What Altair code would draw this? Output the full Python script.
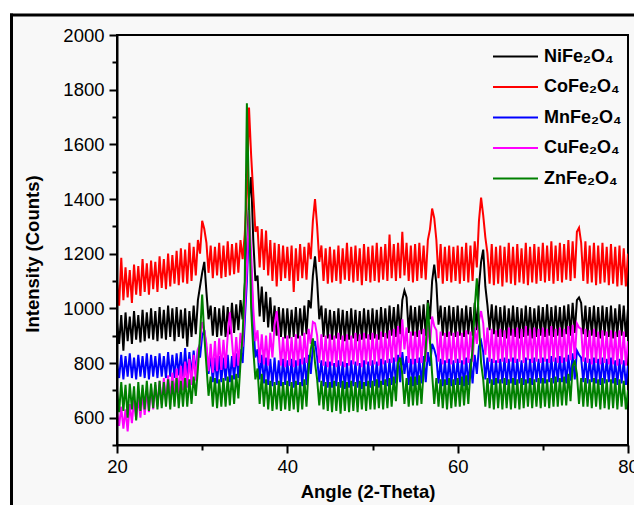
import altair as alt
import pandas as pd

ANGLE_START = 20.0
ANGLE_STEP = 0.25

SAMPLES = ["NiFe₂O₄", "CoFe₂O₄", "MnFe₂O₄", "CuFe₂O₄", "ZnFe₂O₄"]
COLORS = ["#000000", "#ff0000", "#0000ff", "#ff00ff", "#008000"]

X_TICKS = [20, 30, 40, 50, 60, 70, 80]
Y_TICKS = [500, 600, 700, 800, 900, 1000, 1100, 1200, 1300, 1400, 1500,
           1600, 1700, 1800, 1900, 2000]

NI = [
    950, 870, 975, 845, 985, 880, 970, 870, 990, 885, 975, 875, 995, 880, 985, 890, 1000, 885, 990, 880,
    1005, 890, 995, 885, 1010, 895, 1000, 880, 1005, 895, 995, 890, 1000, 860, 990, 895, 1010, 905, 1030, 1080,
    1130, 1170, 1060, 960, 1010, 900, 1005, 895, 1000, 900, 1010, 895, 1005, 905, 1020, 910, 1015, 920, 1030, 960,
    1080, 1200, 1400, 1480, 1250, 1100, 1120, 970, 1080, 950, 1060, 930, 1040, 915, 1010, 900, 1005, 895, 1000, 890,
    1000, 890, 995, 895, 1005, 890, 1000, 900, 1010, 905, 1030, 1000, 1120, 1190, 1100, 960, 1010, 895, 1000, 890,
    995, 885, 990, 890, 1000, 885, 995, 880, 990, 885, 1000, 890, 995, 880, 990, 885, 1000, 890, 995, 885,
    1000, 890, 995, 885, 1005, 895, 1000, 890, 1010, 900, 1005, 895, 1015, 905, 1030, 1065, 1040, 910, 1010, 900,
    1005, 895, 1010, 905, 1015, 900, 1030, 960, 1100, 1160, 1090, 940, 1010, 900, 1005, 895, 1010, 900, 1005, 895,
    1010, 900, 1000, 895, 1010, 905, 1005, 900, 1020, 920, 1080, 1170, 1215, 1080, 1010, 920, 1015, 905, 1010, 895,
    1005, 895, 1010, 890, 1000, 900, 1010, 895, 1005, 890, 1000, 895, 1010, 900, 1005, 890, 1000, 895, 1010, 900,
    1005, 895, 1015, 900, 1005, 895, 1010, 900, 1005, 895, 1010, 905, 1015, 900, 1020, 910, 1030, 1040, 1020, 905,
    1010, 895, 1005, 900, 1010, 895, 1005, 890, 1010, 900, 1005, 895, 1010, 890, 1000, 895, 1015, 900, 1010, 895,
    1000,
]

CO = [
    1100, 1010, 1185, 1030, 1150, 1040, 1140, 1020, 1160, 1050, 1155, 1045, 1180, 1060, 1165, 1050, 1175, 1070, 1170, 1060,
    1190, 1075, 1180, 1070, 1200, 1080, 1195, 1090, 1210, 1085, 1220, 1095, 1215, 1090, 1240, 1100, 1225, 1120, 1250, 1200,
    1320, 1290, 1240, 1130, 1230, 1110, 1225, 1120, 1240, 1110, 1230, 1115, 1245, 1120, 1235, 1125, 1240, 1130, 1250, 1180,
    1270, 1420, 1735, 1560, 1420, 1280, 1300, 1150, 1290, 1140, 1285, 1120, 1250, 1100, 1240, 1080, 1235, 1100, 1230, 1110,
    1225, 1100, 1230, 1060, 1220, 1100, 1235, 1110, 1225, 1105, 1240, 1180, 1320, 1400, 1300, 1170, 1230, 1100, 1220, 1090,
    1225, 1095, 1215, 1100, 1230, 1090, 1220, 1105, 1240, 1100, 1225, 1095, 1230, 1100, 1220, 1085, 1235, 1100, 1225, 1095,
    1230, 1100, 1240, 1095, 1225, 1105, 1235, 1100, 1270, 1110, 1235, 1100, 1240, 1110, 1280, 1120, 1240, 1100, 1230, 1095,
    1235, 1100, 1240, 1110, 1230, 1105, 1250, 1290, 1365, 1330, 1250, 1110, 1235, 1090, 1225, 1100, 1230, 1095, 1225, 1100,
    1230, 1090, 1225, 1100, 1240, 1095, 1230, 1100, 1245, 1150, 1320, 1405, 1340, 1260, 1200, 1090, 1235, 1085, 1225, 1090,
    1230, 1080, 1225, 1095, 1240, 1090, 1225, 1085, 1235, 1095, 1220, 1090, 1240, 1085, 1225, 1095, 1235, 1090, 1225, 1100,
    1240, 1095, 1230, 1100, 1245, 1090, 1230, 1100, 1240, 1095, 1235, 1105, 1250, 1100, 1245, 1110, 1280, 1295, 1240, 1100,
    1245, 1090, 1230, 1095, 1240, 1085, 1230, 1090, 1240, 1095, 1225, 1085, 1235, 1090, 1225, 1080, 1230, 1085, 1220, 1080,
    1200,
]

MN = [
    800, 745, 830, 740, 825, 750, 835, 745, 820, 740, 830, 750, 825, 745, 835, 740, 830, 750, 825, 745,
    835, 750, 825, 745, 840, 750, 830, 745, 835, 755, 840, 750, 855, 750, 840, 755, 845, 760, 850, 820,
    900, 920, 850, 760, 830, 730, 820, 725, 825, 730, 820, 735, 830, 730, 825, 740, 835, 745, 850, 800,
    950, 1100, 1300, 1150, 950, 820, 850, 740, 830, 725, 820, 720, 815, 715, 820, 720, 810, 715, 815, 720,
    810, 715, 815, 710, 810, 720, 815, 715, 820, 720, 830, 760, 860, 880, 820, 730, 810, 715, 805, 710,
    805, 710, 800, 715, 810, 710, 805, 705, 800, 710, 810, 715, 805, 710, 800, 705, 810, 715, 805, 710,
    810, 715, 805, 710, 815, 720, 810, 715, 815, 720, 820, 725, 830, 730, 840, 760, 825, 720, 815, 715,
    815, 720, 820, 725, 825, 730, 840, 790, 870, 850, 820, 725, 815, 715, 810, 720, 815, 715, 810, 720,
    815, 720, 810, 715, 820, 720, 815, 725, 830, 760, 860, 880, 840, 740, 820, 725, 815, 720, 810, 725,
    815, 725, 820, 720, 815, 725, 820, 720, 815, 725, 810, 720, 820, 725, 815, 720, 820, 730, 815, 725,
    820, 725, 815, 730, 825, 725, 820, 730, 825, 730, 820, 725, 830, 735, 835, 740, 845, 830, 820, 730,
    820, 725, 815, 730, 820, 725, 815, 720, 820, 725, 815, 730, 820, 725, 810, 720, 815, 725, 810, 720,
    790,
]

CU = [
    620, 570, 640, 560, 630, 550, 650, 580, 665, 595, 675, 600, 690, 610, 700, 620, 710, 630, 720, 640,
    735, 650, 745, 660, 755, 670, 765, 680, 780, 690, 790, 700, 805, 710, 815, 720, 830, 735, 850, 870,
    950, 920, 870, 770, 870, 765, 880, 770, 890, 775, 885, 780, 900, 985, 880, 785, 895, 790, 910, 860,
    1000, 1150, 1360, 1200, 1000, 880, 920, 800, 905, 795, 900, 790, 910, 820, 940, 990, 900, 790, 895, 785,
    900, 790, 895, 785, 905, 790, 900, 795, 910, 800, 925, 870, 950, 945, 900, 800, 905, 790, 900, 785,
    905, 790, 900, 785, 910, 790, 900, 785, 905, 790, 900, 795, 910, 790, 905, 785, 910, 795, 905, 790,
    910, 795, 905, 790, 915, 795, 910, 800, 920, 800, 925, 805, 935, 820, 960, 850, 930, 800, 915, 795,
    915, 800, 920, 800, 925, 805, 940, 870, 970, 935, 920, 805, 915, 795, 910, 800, 915, 795, 910, 800,
    915, 800, 910, 795, 920, 800, 915, 805, 930, 870, 955, 990, 945, 830, 930, 805, 925, 800, 920, 800,
    925, 805, 920, 800, 930, 805, 925, 800, 930, 805, 925, 800, 935, 810, 925, 800, 930, 805, 925, 800,
    930, 805, 925, 800, 935, 805, 925, 800, 930, 800, 925, 805, 935, 810, 940, 815, 945, 930, 925, 805,
    925, 800, 920, 795, 925, 800, 915, 795, 920, 800, 915, 795, 920, 795, 915, 790, 920, 795, 915, 790,
    880,
]

ZN = [
    700, 620, 730, 625, 720, 600, 725, 630, 715, 590, 730, 625, 720, 630, 735, 625, 725, 635, 730, 630,
    735, 635, 730, 640, 740, 630, 735, 640, 745, 635, 735, 640, 745, 640, 740, 650, 750, 680, 780, 900,
    1050, 900, 790, 680, 750, 640, 745, 635, 740, 640, 745, 640, 750, 645, 755, 650, 760, 670, 800, 900,
    1100, 1750, 1400, 1000, 850, 740, 780, 650, 760, 640, 740, 630, 735, 625, 730, 630, 735, 625, 730, 630,
    735, 625, 730, 630, 735, 620, 730, 630, 740, 640, 780, 850, 890, 800, 740, 645, 735, 630, 730, 625,
    730, 620, 735, 625, 730, 615, 735, 625, 730, 620, 735, 625, 730, 620, 735, 630, 730, 625, 735, 630,
    735, 630, 740, 635, 735, 630, 740, 635, 745, 640, 750, 660, 800, 820, 760, 650, 745, 640, 750, 645,
    750, 645, 755, 650, 770, 850, 1020, 880, 760, 650, 745, 640, 740, 635, 740, 630, 745, 635, 740, 640,
    745, 640, 750, 645, 755, 650, 770, 850, 1000, 1110, 950, 800, 740, 640, 745, 635, 740, 630, 745, 635,
    740, 630, 745, 635, 740, 630, 745, 635, 740, 630, 745, 635, 740, 640, 745, 635, 740, 640, 745, 635,
    745, 640, 740, 635, 745, 640, 750, 640, 745, 645, 750, 645, 760, 660, 790, 805, 760, 650, 745, 640,
    745, 640, 740, 635, 745, 640, 740, 630, 745, 635, 740, 630, 740, 635, 745, 630, 740, 640, 735, 630,
    700,
]

SERIES = [NI, CO, MN, CU, ZN]

FONT = "Liberation Sans"
W, H = 511, 410


def series_frame(name, values):
    return pd.DataFrame({
        "angle": [ANGLE_START + ANGLE_STEP * i for i in range(len(values))],
        "intensity": values,
        "sample": name,
    })


x_axis = alt.Axis(
    values=X_TICKS,
    labelExpr="datum.value % 20 === 0 ? datum.label : ''",
    tickSize={"condition": {"test": "datum.value % 20 === 0", "value": 8}, "value": 5},
    tickWidth=2, tickColor="black", domainColor="black", domainWidth=2,
    labelFont=FONT, labelFontSize=18.5, labelColor="black", labelPadding=4,
    labelFlush=False, grid=False, zindex=1,
    title="Angle (2-Theta)", titleFont=FONT, titleFontSize=18.5,
    titleFontWeight="bold", titleColor="black",
    titleX=250.5, titleY=52, titleBaseline="alphabetic", titleAlign="center",
)
y_axis = alt.Axis(
    values=Y_TICKS, format="d",
    labelExpr="datum.value % 200 === 0 ? datum.label : ''",
    tickSize={"condition": {"test": "datum.value % 200 === 0", "value": 8}, "value": 5},
    tickWidth=2, tickColor="black", domainColor="black", domainWidth=2,
    labelFont=FONT, labelFontSize=18.5, labelColor="black", labelPadding=5,
    labelFlush=False, grid=False, zindex=1,
    title="Intensity (Counts)", titleFont=FONT, titleFontSize=18.5,
    titleFontWeight="bold", titleColor="black", titleAngle=270,
    titleX=-79, titleY=218.5, titleBaseline="alphabetic", titleAlign="center",
)
legend = alt.Legend(
    title=None, orient="none", legendX=387.5, legendY=10.5, padding=0,
    symbolType="M-2.25,0H2.25", symbolSize=400, symbolStrokeWidth=2,
    labelFont=FONT, labelFontSize=18, labelFontWeight="bold", labelColor="black",
    labelOffset=17.5, rowPadding=10.5,
)

x_enc = alt.X("angle:Q", scale=alt.Scale(domain=[20, 80], nice=False, zero=False), axis=x_axis)
y_enc = alt.Y("intensity:Q", scale=alt.Scale(domain=[500, 2000], nice=False, zero=False), axis=y_axis)
c_enc = alt.Color("sample:N", scale=alt.Scale(domain=SAMPLES, range=COLORS), legend=legend)

one = pd.DataFrame({"k": [0]})
strip_top = alt.Chart(one).mark_rect(color="white").encode(
    x=alt.value(-117), x2=alt.value(W + 10), y=alt.value(-35), y2=alt.value(-21.5))
strip_left = alt.Chart(one).mark_rect(color="white").encode(
    x=alt.value(-117), x2=alt.value(-107), y=alt.value(-35), y2=alt.value(H + 70))
frame_left = alt.Chart(one).mark_rule(color="black", strokeWidth=3).encode(
    x=alt.value(-105.5), y=alt.value(-21.5), y2=alt.value(H + 70))
frame_top = alt.Chart(one).mark_rule(color="black", strokeWidth=3).encode(
    x=alt.value(-107), x2=alt.value(W + 10), y=alt.value(-20))

lines = [
    alt.Chart(series_frame(name, vals)).mark_line(strokeWidth=2, clip=True).encode(
        x=x_enc, y=y_enc, color=c_enc)
    for name, vals in zip(SAMPLES, SERIES)
]

chart = alt.layer(strip_top, strip_left, frame_left, frame_top, *lines).properties(
    width=W, height=H,
    autosize=alt.AutoSizeParams(type="none"),
    padding={"left": 117, "top": 35, "right": 6, "bottom": 60},
    background="#f8f8f8",
).configure_view(stroke="black", strokeWidth=2, fill=None)

chart.save("out.html", embed_options={"renderer": "svg", "actions": False})
